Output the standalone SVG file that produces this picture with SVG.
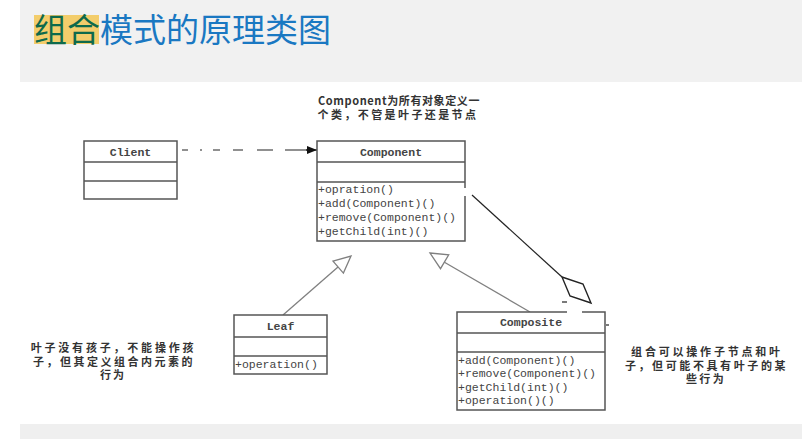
<svg xmlns="http://www.w3.org/2000/svg" width="802" height="439" viewBox="0 0 802 439">
<defs>
<style>
.box{fill:#fff;stroke:#555;stroke-width:1.5}
.sep{stroke:#555;stroke-width:1.5}
.hd{font-family:"Liberation Mono","DejaVu Sans Mono",monospace;font-size:11.5px;font-weight:bold;fill:#444;text-anchor:middle}
.m{font-family:"Liberation Mono","DejaVu Sans Mono",monospace;font-size:11.5px;fill:#444}
.note{font-family:"Noto Sans CJK SC","Noto Sans",sans-serif;font-size:11px;font-weight:bold;fill:#333;text-anchor:middle}
.gen{stroke:#808080;stroke-width:1.3;fill:none}
.tri{stroke:#808080;stroke-width:1.3;fill:#fff}
.blk{stroke:#222;stroke-width:1.2;fill:none}
</style>
<marker id="arrow" viewBox="0 0 10 10" refX="10" refY="5" markerWidth="10" markerHeight="10" markerUnits="userSpaceOnUse" orient="auto">
<path d="M0,1 L10,5 L0,9 Z" fill="#111"/>
</marker>
</defs>
<rect x="0" y="0" width="802" height="439" fill="#fff"/>
<rect x="20" y="0" width="782" height="82" fill="#f1f1f1"/>
<rect x="20" y="424" width="782" height="15" fill="#efefef"/>
<g id="title">
<rect x="34" y="15" width="65" height="29" fill="#f3cd6b"/>
<text x="34" y="42" font-family="Noto Sans CJK SC,sans-serif" font-size="33" fill="#0e6a4c">组合<tspan fill="#1a78c2">模式的原理类图</tspan></text>
</g>
<g id="connectors">
<path class="blk" d="M182,150 L188,150 M200,150 L202,150 M213,150 L220,150 M233,150 L243,150 M257,150 L273,150 M285,150 L307,150" />
<line x1="306" y1="150" x2="317" y2="150" stroke="#111" stroke-width="1.2" marker-end="url(#arrow)"/>
<line class="gen" x1="283" y1="315" x2="338" y2="267"/>
<polygon class="tri" points="351,256 343.4,273.1 333,261.1"/>
<line class="gen" x1="530" y1="312" x2="444" y2="262"/>
<polygon class="tri" points="430,253 448.7,254.9 440.5,268.7"/>
<line class="blk" x1="472" y1="195" x2="562" y2="277"/>
<polygon points="562,277 583,284 591,303 570,296" fill="#fff" stroke="#222" stroke-width="1.4"/>
<line class="blk" x1="562" y1="302" x2="567" y2="302" stroke-width="1.6"/>
<line class="blk" x1="606" y1="325" x2="609" y2="325"/>
</g>
<g id="client">
<rect class="box" x="84" y="141" width="93" height="58"/>
<line class="sep" x1="84" y1="162" x2="177" y2="162"/>
<line class="sep" x1="84" y1="181" x2="177" y2="181"/>
<text class="hd" x="130.5" y="156">Client</text>
</g>
<g id="component">
<rect class="box" x="317" y="141" width="148" height="100"/>
<line class="sep" x1="317" y1="162" x2="465" y2="162"/>
<line class="sep" x1="317" y1="182" x2="465" y2="182"/>
<line x1="465" y1="188" x2="465" y2="196" stroke="#fff" stroke-width="3"/>
<text class="hd" x="391" y="156">Component</text>
<text class="m" x="318" y="193">+opration()</text>
<text class="m" x="318" y="207">+add(Component)()</text>
<text class="m" x="318" y="221">+remove(Component)()</text>
<text class="m" x="318" y="235">+getChild(int)()</text>
</g>
<g id="leaf">
<rect class="box" x="234" y="315" width="93" height="59"/>
<line class="sep" x1="234" y1="337" x2="327" y2="337"/>
<line class="sep" x1="234" y1="356" x2="327" y2="356"/>
<text class="hd" x="280.5" y="330">Leaf</text>
<text class="m" x="235" y="368">+operation()</text>
</g>
<g id="composite">
<rect class="box" x="457" y="312" width="148" height="98"/>
<line class="sep" x1="457" y1="333" x2="605" y2="333"/>
<line class="sep" x1="457" y1="352" x2="605" y2="352"/>
<line x1="567" y1="312" x2="582" y2="312" stroke="#fff" stroke-width="3"/>
<text class="hd" x="531" y="326">Composite</text>
<text class="m" x="458" y="364">+add(Component)()</text>
<text class="m" x="458" y="377">+remove(Component)()</text>
<text class="m" x="458" y="391">+getChild(int)()</text>
<text class="m" x="458" y="404">+operation()()</text>
</g>
<g id="note-component">
<text class="note"><tspan x="399" y="105" letter-spacing="0.6">Component为所有对象定义一</tspan><tspan x="398" y="119" letter-spacing="2.4">个类，不管是叶子还是节点</tspan></text>
</g>
<g id="note-leaf">
<text class="note"><tspan x="113.5" y="352" letter-spacing="2.8">叶子没有孩子，不能操作孩</tspan><tspan x="114" y="366" letter-spacing="2.5">子，但其定义组合内元素的</tspan><tspan x="113" y="379" letter-spacing="2">行为</tspan></text>
</g>
<g id="note-composite">
<text class="note"><tspan x="707" y="356" letter-spacing="2.8">组合可以操作子节点和叶</tspan><tspan x="706.5" y="370" letter-spacing="2.6">子，但可能不具有叶子的某</tspan><tspan x="706" y="383" letter-spacing="2.4">些行为</tspan></text>
</g>
</svg>
